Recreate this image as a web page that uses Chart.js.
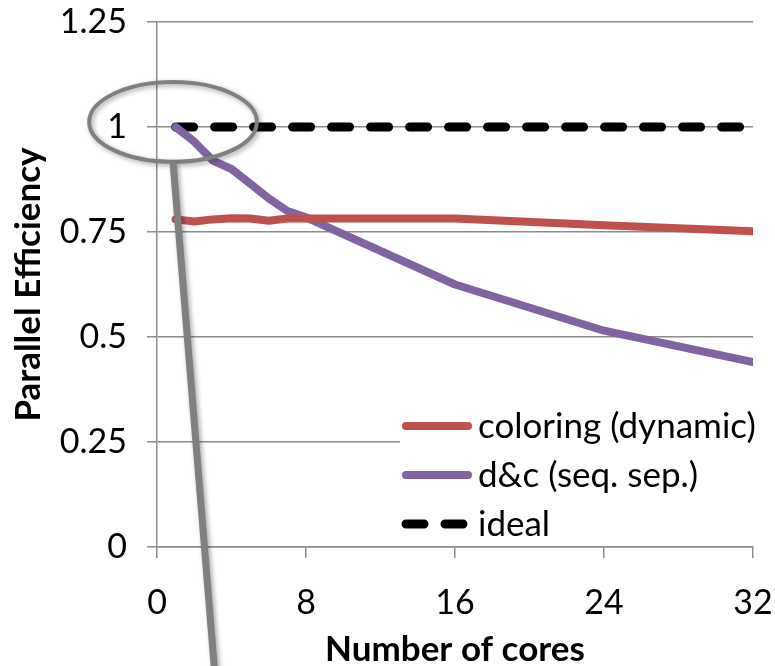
<!DOCTYPE html>
<html>
<head>
<meta charset="utf-8">
<script src="https://cdn.jsdelivr.net/npm/chart.js@4.4.1/dist/chart.umd.min.js"></script>
<style>
  html, body { margin: 0; padding: 0; background: #fff; }
  #wrap { width: 775px; height: 666px; }
</style>
</head>
<body>
<div id="wrap"><canvas id="c" width="775" height="666"></canvas></div>
<script>
// Number of cores sampled for each run
const coresColoring = [1, 2, 3, 4, 5, 6, 7, 8, 16, 24, 32];
const effColoring   = [0.78, 0.775, 0.78, 0.783, 0.782, 0.777, 0.782, 0.782, 0.782, 0.766, 0.752];

const coresDnc = [1, 2, 3, 4, 5, 6, 7, 8, 16, 24, 32];
const effDnc   = [1.0, 0.965, 0.92, 0.90, 0.865, 0.83, 0.80, 0.785, 0.625, 0.515, 0.44];

const coresIdeal = [1, 32];
const effIdeal   = [1, 1];

const seriesNames = ['coloring (dynamic)', 'd&c (seq. sep.)', 'ideal'];
const xTicks = [0, 8, 16, 24, 32];
const yTicks = [0, 0.25, 0.5, 0.75, 1, 1.25];
const yTickLabels = ['0', '0.25', '0.5', '0.75', '1', '1.25'];

// Callout highlighting the ideal value at one core (data units)
const calloutCenter = { x: 0.86, y: 1.012 };
const calloutRadius = { x: 4.5, y: 0.095 };
const calloutTail = { x: 3.1, y: -0.3 };

const FONT = 'Lato, "Open Sans", sans-serif';

const pts = (xs, ys) => xs.map((x, i) => ({ x, y: ys[i] }));

// Legend drawn inside the plot area, on a white box
const insideLegend = {
  id: 'insideLegend',
  afterDatasetsDraw(chart) {
    const ctx = chart.ctx;
    const area = chart.chartArea;
    const left = area.right - 351;
    const top = area.bottom - 143;
    ctx.save();
    ctx.fillStyle = '#fff';
    ctx.fillRect(left - 2, top, 368, 136);
    chart.data.datasets.forEach((ds, i) => {
      const y = top + 22 + i * 49;
      ctx.strokeStyle = ds.borderColor;
      ctx.lineWidth = ds.borderWidth;
      ctx.lineCap = 'round';
      ctx.setLineDash(ds.borderDash || []);
      ctx.beginPath();
      ctx.moveTo(left + 4, y);
      ctx.lineTo(left + 66, y);
      ctx.stroke();
      ctx.setLineDash([]);
      ctx.fillStyle = '#000';
      ctx.font = '35px ' + FONT;
      ctx.textBaseline = 'middle';
      ctx.textAlign = 'left';
      ctx.fillText(ds.label, left + 76, y + 1);
    });
    ctx.restore();
  }
};

// Gray ellipse with a pointer line, placed via the scales
const callout = {
  id: 'callout',
  afterDraw(chart) {
    const xs = chart.scales.x, ys = chart.scales.y;
    const cx = xs.getPixelForValue(calloutCenter.x);
    const cy = ys.getPixelForValue(calloutCenter.y);
    const rx = xs.getPixelForValue(calloutCenter.x + calloutRadius.x) - cx;
    const ry = cy - ys.getPixelForValue(calloutCenter.y + calloutRadius.y);
    const ctx = chart.ctx;
    ctx.save();
    ctx.shadowColor = 'rgba(0,0,0,0.35)';
    ctx.shadowBlur = 5;
    ctx.shadowOffsetX = 2;
    ctx.shadowOffsetY = 2;
    ctx.strokeStyle = '#808080';
    ctx.lineWidth = 4;
    ctx.beginPath();
    ctx.ellipse(cx, cy, rx, ry, 0, 0, Math.PI * 2);
    ctx.stroke();
    ctx.lineWidth = 7;
    ctx.lineCap = 'butt';
    ctx.beginPath();
    ctx.moveTo(cx, cy + ry);
    ctx.lineTo(xs.getPixelForValue(calloutTail.x), ys.getPixelForValue(calloutTail.y));
    ctx.stroke();
    ctx.restore();
  }
};

new Chart(document.getElementById('c'), {
  type: 'line',
  data: {
    datasets: [
      { label: seriesNames[0], data: pts(coresColoring, effColoring), borderColor: '#C0504D', borderWidth: 8, pointRadius: 0, tension: 0, borderCapStyle: 'round', borderJoinStyle: 'round' },
      { label: seriesNames[1], data: pts(coresDnc, effDnc), borderColor: '#8064A2', borderWidth: 8, pointRadius: 0, tension: 0, borderCapStyle: 'round', borderJoinStyle: 'round' },
      { label: seriesNames[2], data: pts(coresIdeal, effIdeal), borderColor: '#000000', borderWidth: 9, borderDash: [18, 21], pointRadius: 0, borderCapStyle: 'round' }
    ]
  },
  options: {
    responsive: false,
    animation: false,
    devicePixelRatio: 1,
    layout: { padding: { left: 0, right: 22, top: 22, bottom: 0 } },
    plugins: { legend: { display: false }, tooltip: { enabled: false } },
    scales: {
      x: {
        type: 'linear', min: 0, max: 32,
        afterBuildTicks: s => { s.ticks = xTicks.map(v => ({ value: v })); },
        afterFit: s => { s.height = 119; s.paddingLeft = 0; s.paddingRight = 0; },
        grid: { drawOnChartArea: false, drawTicks: true, tickLength: 11, color: '#8c8c8c', lineWidth: 1.5 },
        border: { display: true, color: '#8c8c8c', width: 1.5 },
        ticks: { color: '#000', font: { family: FONT, size: 34 }, padding: 25, maxRotation: 0 },
        title: { display: true, text: 'Number of cores', color: '#000', font: { family: FONT, size: 35, weight: 'bold' }, padding: { top: 0, bottom: -5 } }
      },
      y: {
        min: 0, max: 1.25,
        afterBuildTicks: s => { s.ticks = yTicks.map(v => ({ value: v })); },
        afterFit: s => { s.width = 157; s.paddingTop = 0; s.paddingBottom = 0; },
        grid: { drawTicks: true, tickLength: 10, color: '#8c8c8c', lineWidth: 1.5 },
        border: { display: true, color: '#8c8c8c', width: 1.5 },
        ticks: { color: '#000', font: { family: FONT, size: 34 }, padding: 20,
                 callback: v => yTickLabels[yTicks.indexOf(v)] },
        title: { display: true, text: 'Parallel Efficiency', color: '#000', font: { family: FONT, size: 35, weight: 'bold' }, padding: { top: 8, bottom: 0 } }
      }
    }
  },
  plugins: [insideLegend, callout]
});
</script>
</body>
</html>
